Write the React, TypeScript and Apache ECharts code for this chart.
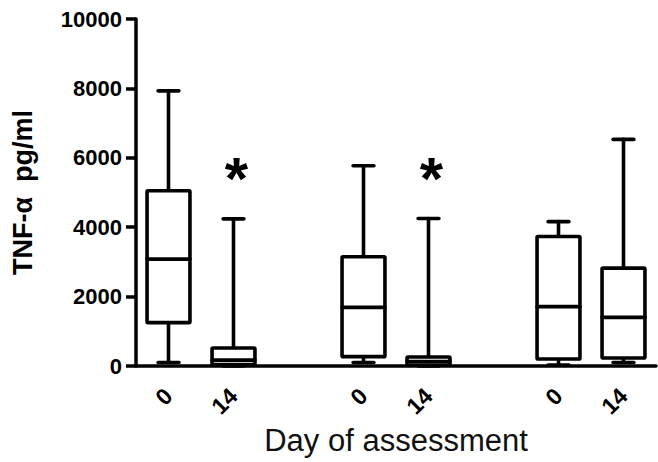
import React, { useEffect, useRef } from "react";
import * as echarts from "echarts";

// x-axis slots: three groups of (day 0, day 14) with an empty separator slot
const dayLabels = ["0", "14", "", "0", "14", "", "0", "14"];

// one entry per box, in slot order
const boxSlot = [0, 1, 3, 4, 6, 7];
const whiskerMin = [100, 0, 100, 0, 30, 100];
const quartile1 = [1250, 40, 270, 30, 200, 230];
const medians = [3080, 170, 1690, 130, 1710, 1400];
const quartile3 = [5050, 520, 3150, 260, 3730, 2820];
const whiskerMax = [7930, 4240, 5770, 4250, 4160, 6530];
const significant = [false, true, false, true, false, false];
const asteriskLevel = [5650, 5650, 5650, 5650, 5650, 5650];

const yTicks = { min: 0, max: 10000, interval: 2000 };

const FONT = "'Liberation Sans', Arial, Helvetica, sans-serif";

export default function App() {
  const ref = useRef<HTMLDivElement>(null);

  useEffect(() => {
    if (!ref.current) return;
    const chart = echarts.init(ref.current, undefined, { renderer: "svg" });

    const data = boxSlot.map((slot, i) => [
      slot,
      whiskerMin[i],
      quartile1[i],
      medians[i],
      quartile3[i],
      whiskerMax[i],
      significant[i] ? 1 : 0,
      asteriskLevel[i],
    ]);

    const renderItem = (params: any, api: any) => {
      const slot = api.value(0);
      const vMin = api.value(1);
      const vQ1 = api.value(2);
      const vMed = api.value(3);
      const vQ3 = api.value(4);
      const vMax = api.value(5);
      const sig = api.value(6);
      const aLevel = api.value(7);
      const slotW = api.size([1, 0])[0];
      const boxW = slotW * 0.66;
      const capW = slotW * 0.32;
      const pMin = api.coord([slot, vMin]);
      const pQ1 = api.coord([slot, vQ1]);
      const pMed = api.coord([slot, vMed]);
      const pQ3 = api.coord([slot, vQ3]);
      const pMax = api.coord([slot, vMax]);
      const x = pMed[0];
      const lineStyle = {
        stroke: "#000",
        lineWidth: 3.6,
        fill: null,
        lineCap: "round",
      };
      const children: any[] = [
        {
          type: "line",
          shape: { x1: x, y1: pQ3[1], x2: x, y2: pMax[1] },
          style: lineStyle,
        },
        {
          type: "line",
          shape: { x1: x, y1: pQ1[1], x2: x, y2: pMin[1] },
          style: lineStyle,
        },
        {
          type: "line",
          shape: { x1: x - capW / 2, y1: pMax[1], x2: x + capW / 2, y2: pMax[1] },
          style: lineStyle,
        },
        {
          type: "line",
          shape: { x1: x - capW / 2, y1: pMin[1], x2: x + capW / 2, y2: pMin[1] },
          style: lineStyle,
        },
        {
          type: "rect",
          shape: { x: x - boxW / 2, y: pQ3[1], width: boxW, height: pQ1[1] - pQ3[1], r: 1 },
          style: { stroke: "#000", lineWidth: 3.6, fill: "#fff", lineJoin: "round" },
        },
        {
          type: "line",
          shape: { x1: x - boxW / 2, y1: pMed[1], x2: x + boxW / 2, y2: pMed[1] },
          style: lineStyle,
        },
      ];
      if (sig) {
        const pA = api.coord([slot, aLevel]);
        children.push({
          type: "text",
          x: x + 3,
          y: pA[1] + 9,
          style: {
            text: "*",
            fill: "#000",
            font: `bold 60px ${FONT}`,
            textAlign: "center",
            textVerticalAlign: "middle",
          },
        });
      }
      return { type: "group", children };
    };

    chart.setOption({
      animation: false,
      backgroundColor: "#fff",
      grid: { left: 136, right: 2, top: 19, bottom: 96, containLabel: false },
      xAxis: {
        type: "category",
        data: dayLabels,
        boundaryGap: true,
        name: "Day of assessment",
        nameLocation: "middle",
        nameGap: 57,
        nameTextStyle: { fontFamily: FONT, fontSize: 31, color: "#111" },
        axisLine: { lineStyle: { color: "#000", width: 3.5 } },
        axisTick: {
          alignWithLabel: true,
          interval: 0,
          length: 10,
          lineStyle: { color: "#000", width: 3.5 },
        },
        axisLabel: {
          interval: 0,
          rotate: 45,
          margin: 26,
          fontFamily: FONT,
          fontWeight: "bold",
          fontSize: 23,
          color: "#000",
        },
        splitLine: { show: false },
      },
      yAxis: {
        type: "value",
        min: yTicks.min,
        max: yTicks.max,
        interval: yTicks.interval,
        name: "TNF-α  pg/ml",
        nameLocation: "middle",
        nameGap: 100,
        nameTextStyle: { fontFamily: FONT, fontSize: 27, fontWeight: "bold", color: "#000" },
        axisLine: { show: true, lineStyle: { color: "#000", width: 3.5 } },
        axisTick: { show: true, length: 10, lineStyle: { color: "#000", width: 3.5 } },
        axisLabel: {
          margin: 14,
          fontFamily: FONT,
          fontWeight: "bold",
          fontSize: 22,
          color: "#000",
          formatter: (v: number) => String(v),
        },
        splitLine: { show: false },
      },
      series: [
        {
          type: "custom",
          renderItem,
          data,
          encode: { x: 0, y: [1, 2, 3, 4, 5] },
          clip: false,
          z: 5,
        },
      ],
    });

    return () => chart.dispose();
  }, []);

  return (
    <div
      ref={ref}
      style={{ position: "fixed", left: 0, top: 0, width: 658, height: 462, background: "#fff" }}
    />
  );
}
